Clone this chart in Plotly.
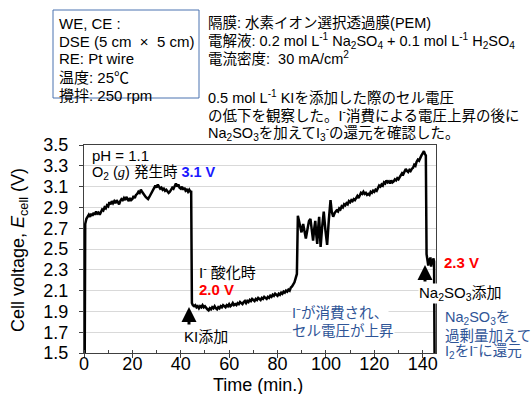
import plotly.graph_objects as go

# ---------------- data ----------------
time_min = [
    0.3, 0.5, 1.0, 1.5, 2.0, 2.5, 3.0, 3.5, 4.0, 4.5, 5.0, 5.5, 6.0, 6.5, 7.0, 7.5,
    8.0, 8.5, 9.0, 9.5, 10.0, 10.5, 11.0, 11.5, 12.0, 12.5, 13.0, 13.5, 14.0, 14.5,
    15.0, 15.5, 16.0, 16.5, 17.0, 17.5, 18.0, 18.5, 19.0, 19.5, 20.0, 20.5, 21.0,
    21.5, 22.0, 22.5, 23.0, 23.5, 24.0, 24.5, 25.0, 25.5, 26.0, 26.5, 27.0, 27.5,
    28.0, 28.5, 29.0, 29.5, 30.0, 30.5, 31.0, 31.5, 32.0, 32.5, 33.0, 33.5, 34.0,
    34.5, 35.0, 35.5, 36.0, 36.5, 37.0, 37.5, 38.0, 38.5, 39.0, 39.5, 40.0, 40.5,
    41.0, 41.5, 42.0, 42.5, 43.0, 43.5, 44.0, 44.3, 44.6,
    45.0, 45.5, 46.0, 46.5, 47.0, 47.5, 48.0, 48.5, 49.0, 49.5, 50.0, 50.5, 51.0,
    51.5, 52.0, 52.5, 53.0, 53.5, 54.0, 54.5, 55.0, 55.5, 56.0, 56.5, 57.0, 57.5,
    58.0, 58.5, 59.0, 59.5, 60.0, 60.5, 61.0, 61.5, 62.0, 62.5, 63.0, 63.5, 64.0,
    64.5, 65.0, 65.5, 66.0, 66.5, 67.0, 67.5, 68.0, 68.5, 69.0, 69.5, 70.0, 70.5,
    71.0, 71.5, 72.0, 72.5, 73.0, 73.5, 74.0, 74.5, 75.0, 75.5, 76.0, 76.5, 77.0,
    77.5, 78.0, 78.5, 79.0, 79.5, 80.0, 80.5, 81.0, 81.5, 82.0, 82.5, 83.0, 83.5,
    84.0, 84.5, 85.0, 85.5, 86.0, 86.5, 87.0, 87.5, 88.0,
    88.4, 88.9, 89.4, 89.9, 90.6, 91.2, 91.7, 92.3, 93.0, 93.6, 94.2, 94.7, 95.2,
    95.6, 96.0, 96.4, 96.8, 97.2, 97.5, 97.8, 98.4, 99.1, 99.8, 100.5, 101.2, 101.9,
    102.4, 103.0, 103.7, 104.4, 105.0, 105.5, 106.0, 106.5, 107.0, 107.5, 108.0,
    108.5, 109.0, 109.5, 110.0, 110.5, 111.0, 111.5, 112.0, 112.5, 113.0, 113.5,
    114.0, 114.5, 115.0, 115.5, 116.0, 116.5, 117.0, 117.5, 118.0, 118.5, 119.0,
    119.5, 120.0, 120.5, 121.0, 121.5, 122.0, 122.5, 123.0, 123.5, 124.0, 124.5,
    125.0, 125.5, 126.0, 126.5, 127.0, 127.5, 128.0, 128.5, 129.0, 129.5, 130.0,
    130.5, 131.0, 131.5, 132.0, 132.5, 133.0, 133.5, 134.0, 134.5, 135.0, 135.5,
    136.0, 136.5, 137.0, 137.5, 138.0, 138.5, 139.0, 139.5, 140.0, 140.5, 141.0,
    141.3, 141.6, 142.0, 142.3, 142.6, 142.9, 143.2, 143.5, 143.8, 144.1, 144.4,
    144.7, 144.9,
]

cell_voltage = [
    1.50, 2.74, 2.79, 2.81, 2.83, 2.81, 2.84, 2.82, 2.85, 2.83, 2.86, 2.84, 2.85, 2.83, 2.86, 2.88,
    2.87, 2.90, 2.89, 2.92, 2.91, 2.95, 2.93, 2.96, 2.94, 2.96, 2.94, 2.97, 2.95, 2.93,
    2.96, 2.98, 2.97, 2.99, 2.97, 3.00, 2.98, 2.96, 2.99, 2.97, 2.98, 3.01, 2.99,
    3.02, 3.03, 3.05, 3.04, 3.07, 3.05, 3.03, 3.02, 3.00, 2.99, 2.98, 3.00, 3.02,
    3.04, 3.07, 3.09, 3.11, 3.09, 3.12, 3.10, 3.08, 3.09, 3.07, 3.08, 3.06, 3.07,
    3.05, 3.04, 3.05, 3.07, 3.09, 3.08, 3.11, 3.13, 3.10, 3.12, 3.09, 3.08, 3.10,
    3.07, 3.09, 3.06, 3.07, 3.05, 3.07, 3.05, 3.06, 1.98,
    1.96, 1.95, 1.96, 1.94, 1.95, 1.93, 1.95, 1.94, 1.96, 1.94, 1.95, 1.93, 1.92,
    1.91, 1.93, 1.92, 1.94, 1.93, 1.95, 1.93, 1.92, 1.94, 1.93, 1.95, 1.94, 1.96,
    1.95, 1.94, 1.96, 1.95, 1.97, 1.95, 1.96, 1.98, 1.96, 1.97, 1.96, 1.98, 1.97,
    1.99, 1.98, 1.97, 1.99, 2.00, 1.98, 2.00, 1.99, 2.01, 2.00, 2.02, 2.01, 2.00,
    2.02, 2.01, 2.03, 2.02, 2.01, 2.03, 2.02, 2.04, 2.03, 2.02, 2.04, 2.03, 2.05,
    2.04, 2.06, 2.05, 2.07, 2.06, 2.05, 2.07, 2.06, 2.08, 2.07, 2.09, 2.08, 2.10,
    2.09, 2.11, 2.10, 2.13, 2.14, 2.16, 2.18, 2.22, 2.26,
    2.82, 2.76, 2.72, 2.66, 2.74, 2.64, 2.60, 2.68, 2.77, 2.79, 2.66, 2.58, 2.70,
    2.77, 2.64, 2.55, 2.70, 2.81, 2.66, 2.52, 2.70, 2.86, 2.68, 2.54, 2.78, 2.97,
    2.86, 2.81, 2.85, 2.87, 2.86, 2.89, 2.88, 2.91, 2.90, 2.93, 2.92,
    2.94, 2.93, 2.96, 2.95, 2.97, 2.96, 2.98, 2.97, 2.99, 3.01, 2.99,
    3.02, 3.04, 3.03, 3.05, 3.03, 3.04, 3.02, 3.03, 3.02, 3.05, 3.04,
    3.06, 3.05, 3.07, 3.06, 3.09, 3.11, 3.10, 3.12, 3.11, 3.14, 3.13,
    3.16, 3.14, 3.15, 3.13, 3.16, 3.14, 3.15, 3.17, 3.16, 3.18, 3.17,
    3.19, 3.21, 3.23, 3.22, 3.25, 3.27, 3.25, 3.24, 3.26, 3.25, 3.27,
    3.28, 3.31, 3.30, 3.34, 3.36, 3.35, 3.38, 3.40, 3.42, 3.44, 3.41,
    3.40, 2.45, 2.40, 2.34, 2.41, 2.36, 2.42, 2.33, 2.40, 2.35, 2.41,
    2.38, 1.50,
]

x_ticks = [0, 20, 40, 60, 80, 100, 120, 140]
y_ticks = [1.5, 1.7, 1.9, 2.1, 2.3, 2.5, 2.7, 2.9, 3.1, 3.3, 3.5]
x_range = [0, 145.5]
y_range = [1.5, 3.5]

# ---------------- layout helpers (pixel -> paper) ----------------
W, H = 532, 394
PL, PR, PT, PB = 84, 436, 145, 353
FONT = "Arial, 'Liberation Sans', 'Noto Sans CJK JP', sans-serif"
STEEL = "#2f5597"


def px(x):
    return (x - PL) / (PR - PL)


def py(y):
    return (PB - y) / (PB - PT)


def txt(x, y, text, size=15, color="#000000", bg=None, xanchor="left", angle=0):
    d = dict(x=px(x), y=py(y), xref="paper", yref="paper", text=text,
             showarrow=False, xanchor=xanchor, yanchor="middle",
             font=dict(family=FONT, size=size, color=color), textangle=angle,
             borderpad=0)
    if bg:
        d["bgcolor"] = bg
    return d


def arrow(x, y_tip, y_tail):
    return dict(x=px(x), y=py(y_tip), xref="paper", yref="paper", text="",
                showarrow=True, ax=0, ay=y_tail - y_tip, axref="pixel", ayref="pixel",
                arrowhead=2, arrowsize=1.0, arrowwidth=3, arrowcolor="#000000")


fig = go.Figure()
fig.add_trace(go.Scatter(x=time_min, y=cell_voltage, mode="lines",
                         line=dict(color="#000000", width=2.5), showlegend=False,
                         hoverinfo="skip"))

anns = []
# top-left condition box text
box_lines = ["WE, CE :", "DSE (5 cm  ×  5 cm)", "RE: Pt wire", "温度: 25℃", "攪拌: 250 rpm"]
box_y = [23, 41, 59, 77, 95]
for t, yy in zip(box_lines, box_y):
    anns.append(txt(58, yy, t, size=15))

right_lines = [
    "隔膜: 水素イオン選択透過膜(PEM)",
    "電解液: 0.2 mol L<sup>-1</sup> Na<sub>2</sub>SO<sub>4</sub> + 0.1 mol L<sup>-1</sup> H<sub>2</sub>SO<sub>4</sub>",
    "電流密度:  30 mA/cm<sup>2</sup>",
    "0.5 mol L<sup>-1</sup> KIを添加した際のセル電圧",
    "の低下を観察した。I<sup>-</sup>消費による電圧上昇の後に",
    "Na<sub>2</sub>SO<sub>3</sub>を加えてI<sub>3</sub><sup>-</sup>の還元を確認した。",
]
right_y = [23, 41, 58, 97, 115, 133]
for t, yy in zip(right_lines, right_y):
    anns.append(txt(207, yy, t, size=14.5))

# in-plot annotations
anns.append(txt(91, 155, "pH = 1.1", size=15))
anns.append(txt(91, 173, "O<sub>2</sub> (<span style=\"font-family:'Liberation Serif', 'Times New Roman', serif\"><i>g</i></span>) 発生時 "
                "<span style='color:#1a1aff'><b>3.1 V</b></span>", size=14.5))
anns.append(txt(198, 271, "I<sup>-</sup> 酸化時", size=15))
anns.append(txt(198, 289, "<b>2.0 V</b>", size=15, color="#ff0000"))
anns.append(txt(183, 336, "KI添加", size=15))
anns.append(arrow(189, 307, 326))
anns.append(txt(291, 313, "I⁻が消費され、", size=14.5, color=STEEL, bg="#ffffff"))
anns.append(txt(291, 331, "セル電圧が上昇", size=14.5, color=STEEL, bg="#ffffff"))
anns.append(txt(443, 262, "<b>2.3 V</b>", size=15, color="#ff0000"))
anns.append(arrow(425, 265, 283))
anns.append(txt(418, 293, "Na<sub>2</sub>SO<sub>3</sub>添加", size=15, bg="#ffffff"))
anns.append(txt(444, 318, "Na<sub>2</sub>SO<sub>3</sub>を", size=14.5, color=STEEL))
anns.append(txt(444, 336, "過剰量加えて", size=14.5, color=STEEL))
anns.append(txt(444, 352, "I<sub>2</sub>をI⁻に還元", size=14.5, color=STEEL))

# axis titles
anns.append(txt(258, 385, "Time (min.)", size=18, xanchor="center"))
anns.append(txt(19, 250, "Cell voltage, <i>E</i><sub>cell</sub> (V)", size=18,
                xanchor="center", angle=-90))

fig.update_layout(
    width=W, height=H,
    margin=dict(l=PL, r=W - PR, t=PT, b=H - PB, pad=0, autoexpand=False),
    paper_bgcolor="#ffffff", plot_bgcolor="#ffffff",
    font=dict(family=FONT, size=18, color="#000000"),
    annotations=anns,
    shapes=[dict(type="rect", xref="paper", yref="paper",
                 x0=px(53), x1=px(199), y0=py(98), y1=py(10),
                 line=dict(color="#4a72b0", width=1), fillcolor="rgba(0,0,0,0)")],
    showlegend=False,
)
fig.update_xaxes(range=x_range, tickvals=x_ticks, showgrid=False, zeroline=False,
                 automargin=False,
                 showline=True, linecolor="#404040", linewidth=1, mirror=True,
                 ticks="outside", ticklen=4, tickcolor="#404040",
                 ticklabelstandoff=-10,
                 minor=dict(dtick=10, ticks="inside", ticklen=3, tickcolor="#404040"),
                 tickfont=dict(size=18))
fig.update_yaxes(range=y_range, tickvals=y_ticks, showgrid=True, gridcolor="#d9d9d9",
                 gridwidth=1, zeroline=False, automargin=False,
                 showline=True, linecolor="#404040", linewidth=1, mirror=True,
                 ticks="outside", ticklen=4, tickcolor="#404040",
                 ticklabelstandoff=7,
                 tickfont=dict(size=18))

fig.write_html("out.html", config={"displayModeBar": False},
               post_script="document.body.style.margin='0';document.body.style.padding='0';")
